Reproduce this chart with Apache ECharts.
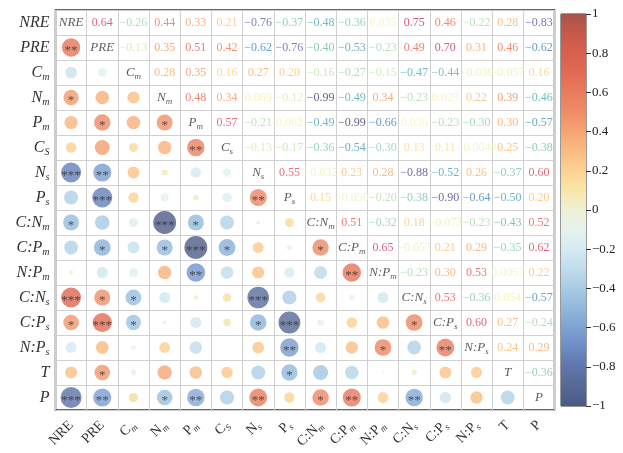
<!DOCTYPE html>
<html><head><meta charset="utf-8">
<script src="https://cdn.jsdelivr.net/npm/echarts@6/dist/echarts.min.js"></script>
<style>html,body{margin:0;padding:0;background:#fff}#c{width:623px;height:453px}</style>
</head><body><div id="c"></div>
<script>
// Variables (name_sub => base with subscript)
const categories = ['NRE','PRE','C_m','N_m','P_m','C_S','N_s','P_s','C:N_m','C:P_m','N:P_m','C:N_s','C:P_s','N:P_s','T','P'];
const diagLabels = ['NRE','PRE','C_m','N_m','P_m','C_s','N_s','P_s','C:N_m','C:P_m','N:P_m','C:N_s','C:P_s','N:P_s','T','P'];

// Upper-triangle correlations: each row lists the columns after the diagonal
const r_NRE  = [0.64,-0.26,0.44,0.33,0.21,-0.76,-0.37,-0.48,-0.36,0.035,0.75,0.46,-0.22,0.28,-0.83];
const r_PRE  = [-0.13,0.35,0.51,0.42,-0.62,-0.76,-0.40,-0.53,-0.23,0.49,0.70,0.31,0.46,-0.62];
const r_Cm   = [0.28,0.35,0.16,0.27,0.20,-0.16,-0.27,-0.15,-0.47,-0.44,-0.039,-0.057,0.16];
const r_Nm   = [0.48,0.34,0.069,-0.12,-0.99,-0.49,0.34,-0.23,0.023,0.22,0.39,-0.46];
const r_Pm   = [0.57,-0.21,0.062,-0.49,-0.99,-0.66,0.036,-0.23,-0.30,0.30,-0.57];
const r_CS   = [-0.13,-0.17,-0.36,-0.54,-0.30,0.13,0.11,-0.0048,0.25,-0.38];
const r_Ns   = [0.55,-0.032,0.23,0.28,-0.88,-0.52,0.26,-0.37,0.60];
const r_Ps   = [0.15,-0.050,-0.20,-0.38,-0.90,-0.64,-0.50,0.20];
const r_CNm  = [0.51,-0.32,0.18,-0.073,-0.23,-0.43,0.52];
const r_CPm  = [0.65,-0.057,0.21,0.29,-0.35,0.62];
const r_NPm  = [-0.23,0.30,0.53,0.0067,0.22];
const r_CNs  = [0.53,-0.36,0.054,-0.57];
const r_CPs  = [0.60,0.27,-0.24];
const r_NPs  = [0.24,0.29];
const r_T    = [-0.36];

// Significance stars, same layout as the rows above
const s_NRE  = ['**','','*','','','***','','*','','','***','*','','','***'];
const s_PRE  = ['','','*','','**','***','','*','','*','***','','*','**'];
const s_Cm   = ['','','','','','','','','*','*','','',''];
const s_Nm   = ['*','','','','***','*','','','','','','*'];
const s_Pm   = ['**','','','*','***','**','','','','','**'];
const s_CS   = ['','','','*','','','','','',''];
const s_Ns   = ['**','','','','***','*','','','**'];
const s_Ps   = ['','','','','***','**','*',''];
const s_CNm  = ['*','','','','','','*'];
const s_CPm  = ['**','','','','','**'];
const s_NPm  = ['','','*','',''];
const s_CNs  = ['*','','','**'];
const s_CPs  = ['**','',''];
const s_NPs  = ['',''];
const s_T    = [''];

const rows  = [r_NRE,r_PRE,r_Cm,r_Nm,r_Pm,r_CS,r_Ns,r_Ps,r_CNm,r_CPm,r_NPm,r_CNs,r_CPs,r_NPs,r_T];
const stars = [s_NRE,s_PRE,s_Cm,s_Nm,s_Pm,s_CS,s_Ns,s_Ps,s_CNm,s_CPm,s_NPm,s_CNs,s_CPs,s_NPs,s_T];

// colour scales
const circleColors = ['#4c5a85','#556896','#5f76ad','#6e8cc4','#7ea3d3','#90b8dc','#a8cbe4','#c0dced','#d6ebf3','#e6f2ee','#eef0d6','#f8e6a8','#fcd294','#f9bc82','#f5a473','#ef8c66','#e97c5e','#e26a52','#d8604e','#c45a4c','#a8544a'];
const textStops = [[-1,'#3a3566'],[-0.85,'#5a4c9e'],[-0.75,'#5c62ae'],[-0.62,'#3a88c0'],[-0.45,'#52b0b0'],[-0.35,'#80cca8'],[-0.2,'#b0deaa'],[-0.1,'#dcefb2'],[0,'#f4f3bc'],[0.07,'#fdeea0'],[0.15,'#fdd080'],[0.3,'#fba562'],[0.45,'#f36d48'],[0.55,'#e44a58'],[0.7,'#c8305f'],[1,'#9e0142']];

function hex2rgb(h){return [parseInt(h.slice(1,3),16),parseInt(h.slice(3,5),16),parseInt(h.slice(5,7),16)];}
function textColor(v){
  for(let k=0;k<textStops.length-1;k++){
    const [a,ca]=textStops[k],[b,cb]=textStops[k+1];
    if(v>=a && v<=b){
      const t=(v-a)/(b-a), A=hex2rgb(ca), B=hex2rgb(cb);
      return 'rgb('+A.map((x,i)=>Math.round(x+(B[i]-x)*t)).join(',')+')';
    }
  }
  return textStops[textStops.length-1][1];
}
function fmt(v){return v.toPrecision(2).replace('-','\u2212');}

const FONT='"Liberation Serif","Times New Roman",serif';
const n = categories.length;

const upper=[], lower=[];
rows.forEach((row,i)=>{
  row.forEach((v,k)=>{
    const j=i+k+1;
    upper.push({value:[j,i,v],label:{color:textColor(v)}});
    lower.push({value:[i,j,v,stars[i][k]]});
  });
});
const diag = categories.map((c,i)=>({value:[i,i,diagLabels[i]]}));

function richName(s){
  const p=s.split('_');
  return p.length>1 ? '{b|'+p[0]+'}{s|'+p[1]+'}' : '{b|'+p[0]+'}';
}
function richSet(size, sub, italic){
  return {
    b:{fontFamily:FONT,fontStyle:italic?'italic':'normal',fontSize:size,color:'#333',lineHeight:size+4},
    s:{fontFamily:FONT,fontStyle:'italic',fontSize:sub,color:'#333',lineHeight:sub,verticalAlign:'bottom'}
  };
}

const chart = echarts.init(document.getElementById('c'),null,{renderer:'canvas'});
chart.setOption({
  backgroundColor:'#fff',
  animation:false,
  grid:[
    {left:55.5,top:10,width:499,height:400,show:true,borderColor:'#333',borderWidth:1.5,backgroundColor:'transparent'},
    {left:561,top:14,width:25,height:392,show:true,borderColor:'#333',borderWidth:1,backgroundColor:'transparent'}
  ],
  xAxis:[
    {type:'category',gridIndex:0,data:categories,boundaryGap:true,
     axisLine:{show:false},axisTick:{show:false},
     splitLine:{show:true,interval:0,lineStyle:{color:'#d0d0d0',width:1}},
     axisLabel:{interval:0,rotate:45,margin:13,formatter:richName,rich:richSet(14,9,false)}},
    {type:'category',gridIndex:1,data:['cb'],show:false}
  ],
  yAxis:[
    {type:'category',gridIndex:0,data:categories,inverse:true,boundaryGap:true,
     axisLine:{show:false},axisTick:{show:false},
     splitLine:{show:true,interval:0,lineStyle:{color:'#d0d0d0',width:1}},
     axisLabel:{interval:0,margin:6,formatter:richName,rich:richSet(16,10,true)}},
    {type:'value',gridIndex:1,min:-1,max:1,interval:0.2,position:'right',
     axisLine:{show:false},splitLine:{show:false},
     axisTick:{show:true,length:5,lineStyle:{color:'#333'}},
     axisLabel:{margin:6,fontFamily:FONT,fontSize:13,color:'#222',
       formatter:v=>String(Math.round(v*10)/10).replace('-','\u2212')}}
  ],
  visualMap:{type:'continuous',show:false,seriesIndex:0,dimension:2,min:-1,max:1,inRange:{color:circleColors}},
  series:[
    {type:'scatter',xAxisIndex:0,yAxisIndex:0,data:lower,
     symbol:'circle',symbolSize:v=>23*Math.sqrt(Math.abs(v[2])),
     label:{show:true,position:'inside',offset:[0,3],formatter:p=>p.value[3]||'',fontFamily:FONT,fontSize:13,color:'#333'}},
    {type:'scatter',xAxisIndex:0,yAxisIndex:0,data:upper,symbolSize:0,
     label:{show:true,position:'inside',formatter:p=>fmt(p.value[2]),fontFamily:FONT,fontSize:12}},
    {type:'scatter',xAxisIndex:0,yAxisIndex:0,data:diag,symbolSize:0,
     label:{show:true,position:'inside',formatter:p=>richName(p.value[2]),rich:richSet(13,9,true)}},
    {type:'custom',xAxisIndex:1,yAxisIndex:1,data:[[0,0]],
     renderItem:(params,api)=>{
       const p0=api.coord([0,1]), p1=api.coord([0,-1]);
       const w=api.size([1,0])[0];
       const stops=circleColors.slice().reverse().map((c,i,a)=>({offset:i/(a.length-1),color:c}));
       return {type:'rect',shape:{x:p0[0]-w/2,y:p0[1],width:w,height:p1[1]-p0[1]},
               style:{fill:new echarts.graphic.LinearGradient(0,0,0,1,stops)}};
     }}
  ]
});
</script></body></html>
